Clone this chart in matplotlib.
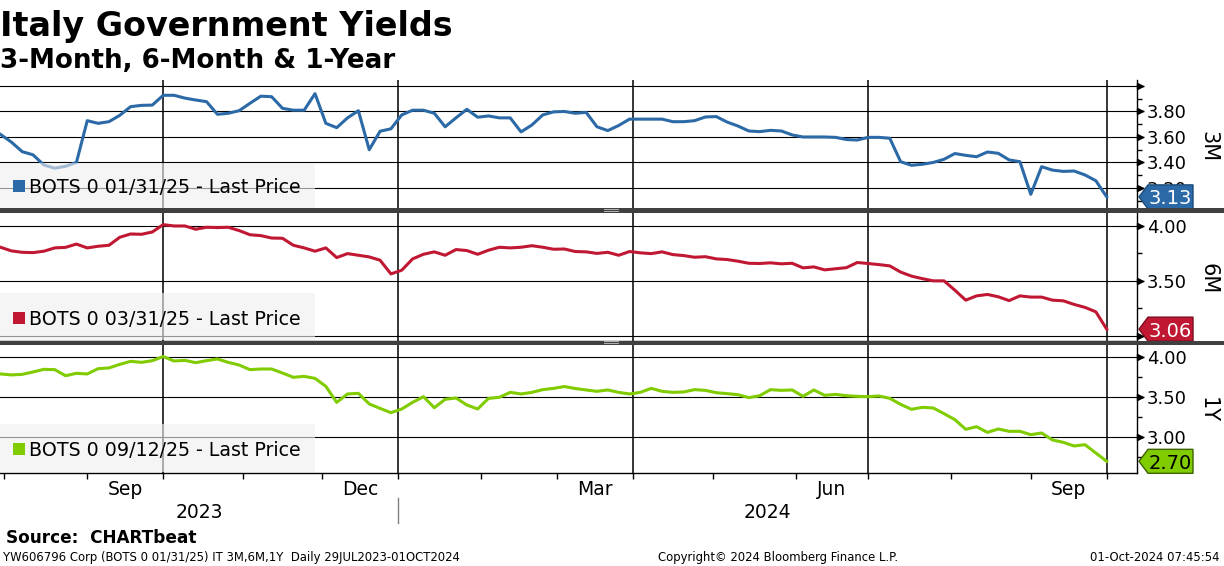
import numpy as np
import pandas as pd
import matplotlib
matplotlib.use("Agg")
import matplotlib.pyplot as plt
from matplotlib.patches import Rectangle, Polygon
from matplotlib.ticker import MultipleLocator

W, H = 1224, 566
DPI = 100

# ---------------------------------------------------------------------------
# Data: yields, one value every 3rd business day
# ---------------------------------------------------------------------------
START = "2023-07-31"
dates = pd.bdate_range(START, "2024-10-01", freq="3B")

yld_3m = [3.62, 3.56, 3.485, 3.46, 3.38, 3.355, 3.37, 3.40, 3.728, 3.707,
          3.72, 3.77, 3.838, 3.848, 3.85, 3.927, 3.927, 3.905, 3.89, 3.877,
          3.778, 3.786, 3.806, 3.864, 3.92, 3.916, 3.825, 3.81, 3.81, 3.94,
          3.707, 3.673, 3.75, 3.806, 3.50, 3.645, 3.664, 3.773, 3.81, 3.81,
          3.786, 3.68, 3.75, 3.817, 3.755, 3.765, 3.75, 3.75, 3.64, 3.694,
          3.773, 3.797, 3.80, 3.786, 3.793, 3.68, 3.65, 3.69, 3.74, 3.74,
          3.74, 3.74, 3.72, 3.72, 3.728, 3.757, 3.76, 3.717, 3.686, 3.647,
          3.642, 3.652, 3.647, 3.616, 3.60, 3.60, 3.60, 3.597, 3.58, 3.576,
          3.597, 3.597, 3.59, 3.406, 3.378, 3.386, 3.40, 3.425, 3.47, 3.456,
          3.445, 3.482, 3.472, 3.42, 3.406, 3.15, 3.367, 3.34, 3.33, 3.333,
          3.302, 3.257, 3.13]

yld_6m = [3.806, 3.773, 3.76, 3.757, 3.77, 3.80, 3.805, 3.835, 3.80, 3.815,
          3.824, 3.897, 3.927, 3.924, 3.945, 4.012, 4.00, 4.00, 3.97, 3.988,
          3.985, 3.988, 3.958, 3.92, 3.912, 3.89, 3.888, 3.824, 3.80, 3.77,
          3.80, 3.712, 3.748, 3.733, 3.718, 3.688, 3.563, 3.597, 3.70, 3.742,
          3.764, 3.733, 3.785, 3.776, 3.742, 3.779, 3.806, 3.80, 3.806, 3.82,
          3.806, 3.788, 3.79, 3.767, 3.764, 3.75, 3.76, 3.733, 3.767, 3.755,
          3.748, 3.764, 3.739, 3.73, 3.715, 3.72, 3.70, 3.694, 3.679, 3.66,
          3.658, 3.664, 3.655, 3.66, 3.618, 3.627, 3.60, 3.61, 3.62, 3.667,
          3.658, 3.648, 3.636, 3.58, 3.543, 3.52, 3.50, 3.50, 3.415, 3.324,
          3.363, 3.376, 3.355, 3.32, 3.363, 3.352, 3.352, 3.324, 3.318, 3.285,
          3.258, 3.218, 3.06]

yld_1y = [3.792, 3.78, 3.787, 3.817, 3.85, 3.846, 3.77, 3.80, 3.792, 3.858,
          3.867, 3.912, 3.95, 3.937, 3.958, 4.01, 3.954, 3.962, 3.933, 3.958,
          3.98, 3.937, 3.904, 3.846, 3.854, 3.854, 3.804, 3.75, 3.762, 3.737,
          3.637, 3.437, 3.542, 3.55, 3.417, 3.362, 3.308, 3.354, 3.437, 3.508,
          3.37, 3.475, 3.492, 3.404, 3.354, 3.487, 3.50, 3.562, 3.542, 3.562,
          3.596, 3.612, 3.635, 3.61, 3.592, 3.575, 3.592, 3.562, 3.542, 3.562,
          3.612, 3.575, 3.562, 3.567, 3.596, 3.587, 3.558, 3.546, 3.533, 3.496,
          3.52, 3.596, 3.587, 3.592, 3.512, 3.592, 3.525, 3.537, 3.52, 3.512,
          3.508, 3.517, 3.487, 3.412, 3.35, 3.375, 3.367, 3.296, 3.221, 3.10,
          3.133, 3.062, 3.104, 3.075, 3.075, 3.033, 3.054, 2.967, 2.937, 2.892,
          2.908, 2.804, 2.70]

series_names = ["BOTS 0 01/31/25 - Last Price",
                "BOTS 0 03/31/25 - Last Price",
                "BOTS 0 09/12/25 - Last Price"]
panel_labels = ["3M", "6M", "1Y"]

quarter_starts = ["2023-10-02", "2024-01-01", "2024-04-01", "2024-07-01", "2024-10-01"]
month_starts = ["2023-08-01", "2023-09-01", "2023-10-02", "2023-11-01", "2023-12-01",
                "2024-01-01", "2024-02-01", "2024-03-01", "2024-04-01", "2024-05-01",
                "2024-06-03", "2024-07-01", "2024-08-01", "2024-09-02", "2024-10-01"]
month_labels = ["Sep", "Dec", "Mar", "Jun", "Sep"]
month_spans = [("2023-09-01", "2023-10-02"), ("2023-12-01", "2024-01-01"),
               ("2024-03-01", "2024-04-01"), ("2024-06-03", "2024-07-01"),
               ("2024-09-02", "2024-10-01")]
year_labels = ["2023", "2024"]
year_break = "2024-01-01"


def bday(d):
    return np.busday_count(START, np.array(d, dtype="datetime64[D]"))


x = bday(dates.values.astype("datetime64[D]"))


# ---------------------------------------------------------------------------
# Layout helpers (figure pixels, y from top)
# ---------------------------------------------------------------------------
def fx(px):
    return px / W


def fy(py):
    return 1 - py / H


PLOT_RIGHT = 1137
PX_PER_DAY = 3.615
XLIM = (-0.5 / PX_PER_DAY, (PLOT_RIGHT - 0.5) / PX_PER_DAY)

panels = [
    dict(top=80, bottom=209, values=yld_3m, color="#2b6aa6", edge="#1c4a78",
         tag_text="white", ylim=(3.035, 4.047), major=[3.2, 3.4, 3.6, 3.8, 4.0],
         labels=["3.20", "3.40", "3.60", "3.80", ""], minor=0.1,
         legend_box=(163, 208), baseline=193, label_y=147),
    dict(top=213, bottom=341, values=yld_6m, color="#c01733", edge="#7d0c20",
         tag_text="white", ylim=(2.952, 4.118), major=[3.0, 3.5, 4.0],
         labels=["", "3.50", "4.00"], minor=0.25,
         legend_box=(293, 340), baseline=325, label_y=279),
    dict(top=345, bottom=473, values=yld_1y, color="#80cc00", edge="#3d6300",
         tag_text="black", ylim=(2.554, 4.154), major=[3.0, 3.5, 4.0],
         labels=["3.00", "3.50", "4.00"], minor=0.25,
         legend_box=(424, 472), baseline=456, label_y=410),
]

fig = plt.figure(figsize=(W / DPI, H / DPI), dpi=DPI)
fig.patch.set_facecolor("white")

axes = []
for i, p in enumerate(panels):
    ax = fig.add_axes([0, fy(p["bottom"]), fx(PLOT_RIGHT), (p["bottom"] - p["top"]) / H])
    axes.append(ax)
    ax.plot(x, p["values"], color=p["color"], lw=2.2, zorder=3, solid_joinstyle="round")
    ax.set_xlim(*XLIM)
    ax.set_ylim(*p["ylim"])

    # right-hand value axis
    ax.yaxis.tick_right()
    ax.set_yticks(p["major"])
    ax.set_yticklabels(p["labels"])
    ax.yaxis.set_minor_locator(MultipleLocator(p["minor"]))
    ax.tick_params(axis="y", which="major", length=5, width=1, pad=2,
                   labelsize=13, color="black")
    ax.tick_params(axis="y", which="minor", length=3.5, width=1, color="black")
    ax.plot([1 + 3 / PLOT_RIGHT] * len(p["major"]), p["major"], ls="none", marker=">",
            ms=5, color="black", transform=ax.get_yaxis_transform(), clip_on=False)

    # grid
    ax.grid(axis="y", which="major", color="black", lw=0.8, zorder=1)
    for q in bday(quarter_starts):
        ax.axvline(q, color="black", lw=1.1, zorder=1)

    for side in ("left", "top"):
        ax.spines[side].set_visible(False)
    ax.spines["right"].set_color("black")
    ax.spines["right"].set_linewidth(1)
    ax.spines["bottom"].set_color("black")
    ax.spines["bottom"].set_linewidth(1)

    if i < 2:
        ax.tick_params(axis="x", bottom=False, labelbottom=False)
    else:
        ax.set_xticks(bday(month_starts))
        ax.tick_params(axis="x", length=4, width=1, direction="out",
                       labelbottom=False, color="black")

    # panel label on the far right
    fig.text(fx(1208), fy(p["label_y"]), panel_labels[i], rotation=-90,
             ha="center", va="center", fontsize=15)

    # legend box
    b0, b1 = p["legend_box"]
    fig.add_artist(Rectangle((0, fy(b1)), fx(315), (b1 - b0) / H, transform=fig.transFigure,
                             facecolor="#f0f0f0", edgecolor="none", alpha=0.62, zorder=4))
    fig.add_artist(Rectangle((fx(13), fy(p["baseline"] - 1)), fx(12), 12 / H,
                             transform=fig.transFigure, facecolor=p["color"],
                             edgecolor="none", zorder=5))
    fig.text(fx(29), fy(p["baseline"]), series_names[i], ha="left", va="baseline",
             fontsize=13.7, zorder=5)

    # last value tag
    last = p["values"][-1]
    yc = ax.transData.transform((0, last))[1] / H
    hh = 12 / H
    tag = Polygon([[fx(1139), yc], [fx(1148), yc + hh], [fx(1193), yc + hh],
                   [fx(1193), yc - hh], [fx(1148), yc - hh]], closed=True,
                  transform=fig.transFigure, facecolor=p["color"], edgecolor=p["edge"],
                  lw=1, zorder=6)
    fig.add_artist(tag)
    fig.text(fx(1170), yc, f"{last:.2f}", ha="center", va="center_baseline",
             color=p["tag_text"], fontsize=14, zorder=7)

# separators between the panels
for top in (208.5, 340.5):
    fig.add_artist(Rectangle((0, fy(top + 4)), 1, 4 / H, transform=fig.transFigure,
                             facecolor="#404040", edgecolor="none", zorder=8))
    for dy in (1.2, 2.8):
        fig.add_artist(Rectangle((fx(604), fy(top + dy + 0.4)), fx(15), 0.8 / H,
                                 transform=fig.transFigure, facecolor="#b0b0b0",
                                 edgecolor="none", zorder=9))

# month and year labels under the bottom panel
ax3 = axes[2]
axh = panels[2]["bottom"] - panels[2]["top"]
ax_bot = panels[2]["bottom"]
for lab, (a, b) in zip(month_labels, month_spans):
    xm = (bday(a) + bday(b)) / 2
    ax3.text(xm, (ax_bot - 495) / axh, lab, transform=ax3.get_xaxis_transform(),
             ha="center", va="baseline", fontsize=13.5)
jan = bday(year_break)
for lab, xm in zip(year_labels, [(XLIM[0] + jan) / 2, (jan + XLIM[1]) / 2]):
    ax3.text(xm, (ax_bot - 518) / axh, lab, transform=ax3.get_xaxis_transform(),
             ha="center", va="baseline", fontsize=13.5)
ax3.plot([jan, jan], [(ax_bot - 498) / axh, (ax_bot - 523) / axh], color="#808080",
         lw=1, transform=ax3.get_xaxis_transform(), clip_on=False)

# titles and footer
fig.text(fx(0), fy(36), "Italy Government Yields", fontsize=24, fontweight="bold",
         ha="left", va="baseline")
fig.text(fx(0), fy(68), "3-Month, 6-Month & 1-Year", fontsize=18.8, fontweight="bold",
         ha="left", va="baseline")
fig.text(fx(6), fy(543), "Source:  CHARTbeat", fontsize=12.2, fontweight="bold",
         ha="left", va="baseline")
fig.text(fx(3), fy(561), "YW606796 Corp (BOTS 0 01/31/25) IT 3M,6M,1Y  Daily 29JUL2023-01OCT2024",
         fontsize=8.4, ha="left", va="baseline")
fig.text(fx(658), fy(561), "Copyright\u00a9 2024 Bloomberg Finance L.P.",
         fontsize=8.4, ha="left", va="baseline")
fig.text(fx(1220), fy(561), "01-Oct-2024 07:45:54", fontsize=8.4, ha="right", va="baseline")

fig.savefig("out.png", dpi=DPI, facecolor="white")
